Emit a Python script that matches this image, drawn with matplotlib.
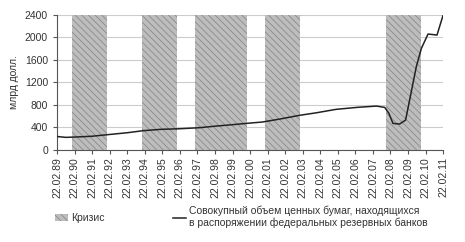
import matplotlib.pyplot as plt
from matplotlib.patches import Patch
from matplotlib.lines import Line2D

plt.rcParams['font.family'] = ['Liberation Sans', 'DejaVu Sans']
plt.rcParams['hatch.linewidth'] = 0.6

# x axis: years since 22.02.1989
tick_labels = ['22.02.%02d' % (y % 100) for y in range(1989, 2012)]

# crisis periods (start, end) in years since 22.02.89
crisis_start = [0.85, 4.82, 7.85, 11.85, 18.76]
crisis_end = [2.83, 6.81, 10.83, 13.84, 20.76]

# securities held by federal reserve banks, bln USD
t = [0.0, 0.5, 1.0, 2.0, 2.8, 4.0, 4.9, 5.9, 7.0, 8.1, 9.1, 10.0, 10.8, 11.7,
     12.7, 13.8, 14.8, 15.9, 17.1, 18.2, 18.67, 18.91, 19.14, 19.52, 19.86,
     20.09, 20.47, 20.76, 21.14, 21.65, 22.0]
value = [240, 225, 230, 245, 270, 307, 343, 367, 378, 396, 426, 450, 473, 497,
         550, 615, 662, 722, 757, 780, 757, 650, 473, 461, 532,
         887, 1478, 1804, 2058, 2040, 2395]

fig = plt.figure(figsize=(4.65, 2.42), dpi=100)
ax = fig.add_axes([0.1226, 0.38, 0.8304, 0.559])

for s, e in zip(crisis_start, crisis_end):
    ax.axvspan(s, e, ymin=0, ymax=1, facecolor='#bdbdbd', edgecolor='#8a8a8a',
               hatch='\\\\\\\\\\', linewidth=0, zorder=1)

ax.plot(t, value, color='#222222', linewidth=1.1, zorder=3)

ax.set_xlim(0, 22)
ax.set_ylim(0, 2400)
ax.set_yticks(range(0, 2401, 400))
ax.set_xticks(range(len(tick_labels)))
ax.set_xticklabels(tick_labels, rotation=90, fontsize=7.5, color='#333333')
ax.tick_params(axis='y', labelsize=7.5, labelcolor='#333333', length=3,
               color='#555555')
ax.tick_params(axis='x', length=3, color='#555555', pad=2)
ax.yaxis.grid(True, color='#cccccc', linewidth=0.8, zorder=0)
ax.set_axisbelow(True)
ax.set_ylabel('млрд долл.', fontsize=7.5, color='#333333', labelpad=4)
for side in ['top', 'right']:
    ax.spines[side].set_visible(False)
for side in ['left', 'bottom']:
    ax.spines[side].set_color('#555555')

handles = [
    Patch(facecolor='#bdbdbd', edgecolor='#8a8a8a', hatch='\\\\\\\\\\', linewidth=0),
    Line2D([0], [0], color='#222222', linewidth=1.1),
]
labels = ['Кризис', 'Совокупный объем ценных бумаг, находящихся\n'
          'в распоряжении федеральных резервных банков']
fig.legend(handles, labels, loc='upper left', bbox_to_anchor=(0.118, 0.15),
           ncol=2, frameon=False, fontsize=7.5, handlelength=1.3,
           handleheight=0.6, handletextpad=0.3, columnspacing=6.5,
           labelcolor='#333333', borderaxespad=0, borderpad=0)

fig.savefig('out.png', dpi=100)
